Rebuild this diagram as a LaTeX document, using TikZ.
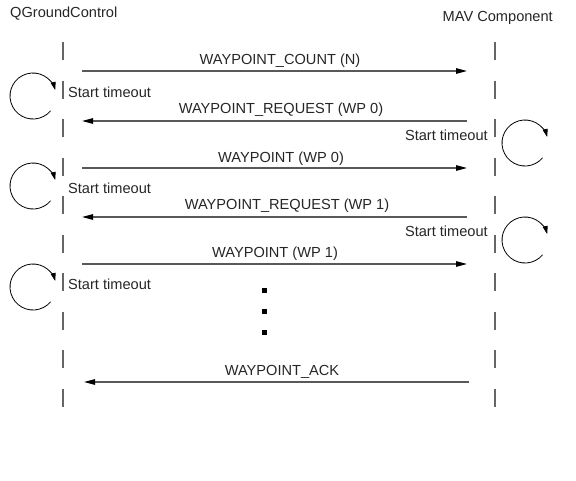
\documentclass[tikz,border=0pt]{standalone}
\usepackage{fontspec}
\setmainfont{Liberation Sans}
\usetikzlibrary{arrows.meta}
\begin{document}
\begin{tikzpicture}[x=1pt,y=-1pt,
  txt/.style={inner sep=0pt, font=\fontsize{14.6}{17}\selectfont, text=black!85},
  msg/.style={draw=black!65, line width=1.3pt, -{Triangle[length=11pt,width=5.5pt,color=black]}},
  life/.style={draw=black!60, line width=1.2pt, dash pattern=on 18pt off 20.5pt},
  timer/.style={draw=black, line width=0.8pt, -{Triangle[length=8pt,width=5pt]}},
  dotbox/.style={fill=black, minimum size=5pt, inner sep=0pt}]
\useasboundingbox (0,0) rectangle (576,480);
% headers
\node[txt, anchor=west] (qgc) at (10,14) {QGroundControl};
\node[txt, anchor=east] (mav) at (553,18) {MAV Component};
% lifelines
\coordinate (qtop) at (63,42); \coordinate (qbot) at (63,410);
\coordinate (mtop) at (495,42); \coordinate (mbot) at (495,410);
\draw[life] (qtop) -- (qbot);
\draw[life] (mtop) -- (mbot);
% message end points
\coordinate (q1) at (82,71);  \coordinate (m1) at (467,71);
\coordinate (q2) at (82,121); \coordinate (m2) at (467,121);
\coordinate (q3) at (82,168); \coordinate (m3) at (467,168);
\coordinate (q4) at (82,217); \coordinate (m4) at (467,217);
\coordinate (q5) at (82,264); \coordinate (m5) at (467,264);
\coordinate (q6) at (84,382); \coordinate (m6) at (469,382);
\draw[msg] (q1) -- (m1);
\draw[msg] (m2) -- (q2);
\draw[msg] (q3) -- (m3);
\draw[msg] (m4) -- (q4);
\draw[msg] (q5) -- (m5);
\draw[msg] (m6) -- (q6);
% labels
\node[txt] (l1) at (280,60.5) {WAYPOINT\_COUNT (N)};
\node[txt] (l2) at (281,109.5) {WAYPOINT\_REQUEST (WP 0)};
\node[txt] (l3) at (281,158.5) {WAYPOINT (WP 0)};
\node[txt] (l4) at (287,205.5) {WAYPOINT\_REQUEST (WP 1)};
\node[txt] (l5) at (275,253.5) {WAYPOINT (WP 1)};
\node[txt] (l6) at (282,371.5) {WAYPOINT\_ACK};
% timeouts
\node[txt, anchor=west] (t1) at (68,92) {Start timeout};
\node[txt, anchor=west] (t2) at (68,188) {Start timeout};
\node[txt, anchor=west] (t3) at (68,284) {Start timeout};
\node[txt, anchor=east] (t4) at (488,135) {Start timeout};
\node[txt, anchor=east] (t5) at (488,231) {Start timeout};
% timer loops
\foreach \cx/\cy in {33/96, 33/186, 33/287, 525/143, 525/240}{
  \draw[timer] (\cx,\cy) ++(40:23) arc[start angle=40, end angle=345, radius=23];
}
% dots
\node[dotbox] (d1) at (264,290) {};
\node[dotbox] (d2) at (264,311) {};
\node[dotbox] (d3) at (264,332) {};
\end{tikzpicture}
\end{document}
